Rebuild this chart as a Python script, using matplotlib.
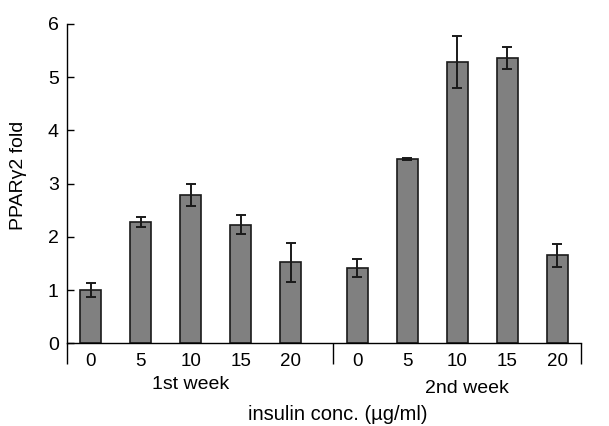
import matplotlib.pyplot as plt
import numpy as np

plt.rcParams['font.family'] = ['Liberation Sans', 'DejaVu Sans']

# insulin concentrations (ug/ml) per week
conc = ['0', '5', '10', '15', '20']
weeks = ['1st week', '2nd week']

# PPARg2 fold change and error
week1_vals = [1.00, 2.28, 2.79, 2.23, 1.52]
week1_err = [0.13, 0.10, 0.21, 0.18, 0.37]
week2_vals = [1.42, 3.46, 5.29, 5.36, 1.65]
week2_err = [0.17, 0.02, 0.49, 0.20, 0.22]

# bar positions: group 2 is shifted by a small gap
x1 = np.arange(5)
x2 = np.arange(5) + 5.34
vals = week1_vals + week2_vals
errs = week1_err + week2_err
xs = np.concatenate([x1, x2])

fig = plt.figure(figsize=(6.09, 4.26), dpi=100)
ax = fig.add_axes([0.110, 0.194, 0.844, 0.750])

ax.bar(xs, vals, width=0.42, color='#808080', edgecolor='#1a1a1a', linewidth=1.2,
       yerr=errs, error_kw=dict(ecolor='#1a1a1a', elinewidth=1.4, capsize=3.5, capthick=1.4))

ax.set_ylim(0, 6)
ax.set_xlim(-0.48, 9.82)
ax.set_yticks(range(7))
ax.tick_params(axis='y', direction='in', length=5, width=1, labelsize=14, pad=6)

ax.set_xticks(xs)
ax.set_xticklabels(conc + conc)
ax.tick_params(axis='x', which='major', length=0, labelsize=13.5, pad=7)
ax.set_xticks([-0.48, 4.86, 9.82], minor=True)
ax.tick_params(axis='x', which='minor', direction='out', length=15, width=1)

for s in ['top', 'right']:
    ax.spines[s].set_visible(False)
ax.spines['left'].set_linewidth(1)
ax.spines['bottom'].set_linewidth(1)

trans = ax.get_xaxis_transform()
ax.text(2.0, -0.130, weeks[0], transform=trans, ha='center', va='center', fontsize=14)
ax.text(7.54, -0.142, weeks[1], transform=trans, ha='center', va='center', fontsize=14)
ax.text(4.94, -0.224, 'insulin conc. (\u00b5g/ml)', transform=trans, ha='center', va='center', fontsize=14.5)

ax.set_ylabel('PPAR\u03b32 fold', fontsize=14)
ax.yaxis.set_label_coords(-0.078, 0.527)

fig.savefig('out.png', dpi=100)
